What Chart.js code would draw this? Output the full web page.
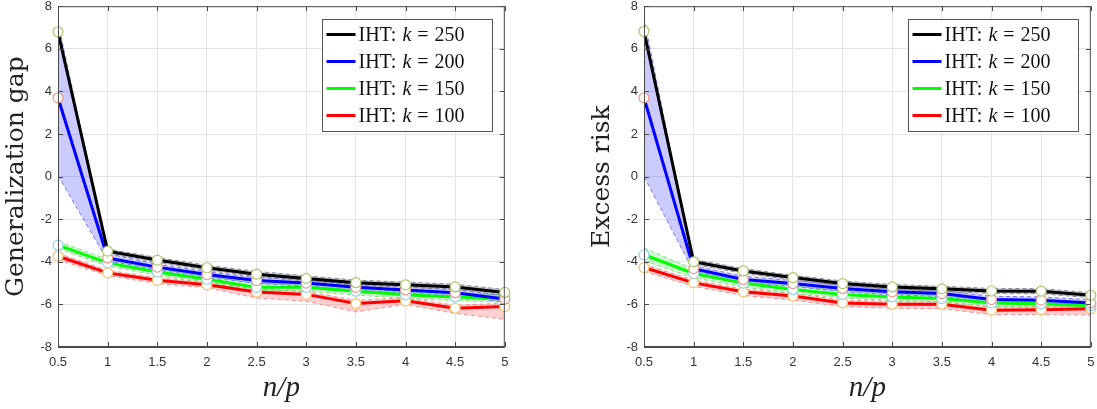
<!DOCTYPE html>
<html>
<head>
<meta charset="utf-8">
<script src="https://cdn.jsdelivr.net/npm/chart.js@4.4.1/dist/chart.umd.min.js"></script>
<style>
  html, body { margin: 0; padding: 0; background: #fff; }
  #wrap { position: relative; width: 1097px; height: 409px; overflow: hidden; }
  .panel { position: absolute; top: 0; width: 511px; height: 409px; }
</style>
</head>
<body>
<div id="wrap">
  <div class="panel" style="left:0"><canvas id="gap-chart" width="511" height="409"></canvas></div>
  <div class="panel" style="left:586px"><canvas id="risk-chart" width="511" height="409"></canvas></div>
</div>
<script>
// n/p ratios on the x axis
const ratios = [0.5, 1, 1.5, 2, 2.5, 3, 3.5, 4, 4.5, 5];
const kValues = ['250', '200', '150', '100'];
const yTicks = [-8, -6, -4, -2, 0, 2, 4, 6, 8];

// Generalization gap (left panel)
const gap250 = [6.8, -3.5, -3.92, -4.28, -4.58, -4.78, -4.98, -5.08, -5.18, -5.44];
const gap200 = [3.7, -3.82, -4.25, -4.6, -4.88, -5.0, -5.2, -5.32, -5.45, -5.75];
const gap150 = [-3.22, -4.05, -4.48, -4.82, -5.2, -5.2, -5.38, -5.55, -5.65, -5.72];
const gap100 = [-3.74, -4.52, -4.87, -5.08, -5.42, -5.53, -5.96, -5.83, -6.18, -6.1];
const gap250Hi = [6.95, -3.4, -3.8, -4.16, -4.45, -4.66, -4.86, -4.95, -5.05, -5.3];
const gap250Lo = [6.65, -3.6, -4.04, -4.4, -4.7, -4.9, -5.1, -5.2, -5.3, -5.58];
const gap200Hi = [7.25, -3.62, -4.12, -4.47, -4.74, -4.86, -5.06, -5.18, -5.3, -5.6];
const gap200Lo = [0.05, -3.95, -4.38, -4.73, -5.02, -5.14, -5.34, -5.46, -5.6, -5.9];
const gap150Hi = [-3.05, -3.88, -4.32, -4.66, -5.02, -5.03, -5.2, -5.38, -5.48, -5.55];
const gap150Lo = [-3.38, -4.2, -4.63, -4.98, -5.38, -5.37, -5.56, -5.72, -5.82, -5.9];
const gap100Hi = [-3.6, -4.4, -4.75, -4.96, -5.28, -5.4, -5.8, -5.7, -6.04, -5.95];
const gap100Lo = [-3.9, -4.65, -5.02, -5.22, -5.7, -5.85, -6.35, -6.0, -6.42, -6.7];

// Excess risk (right panel)
const risk250 = [6.82, -4.0, -4.43, -4.74, -5.02, -5.18, -5.27, -5.37, -5.38, -5.57];
const risk200 = [3.7, -4.32, -4.83, -5.02, -5.25, -5.41, -5.49, -5.77, -5.8, -5.93];
const risk150 = [-3.67, -4.55, -5.0, -5.3, -5.53, -5.65, -5.72, -5.93, -5.97, -6.05];
const risk100 = [-4.27, -4.99, -5.41, -5.61, -5.93, -5.99, -5.99, -6.27, -6.25, -6.2];
const risk250Hi = [6.97, -3.88, -4.32, -4.63, -4.9, -5.06, -5.15, -5.25, -5.26, -5.45];
const risk250Lo = [6.67, -4.12, -4.55, -4.85, -5.14, -5.3, -5.39, -5.49, -5.5, -5.69];
const risk200Hi = [7.45, -4.18, -4.68, -4.88, -5.1, -5.27, -5.35, -5.62, -5.65, -5.78];
const risk200Lo = [0.0, -4.46, -4.98, -5.16, -5.4, -5.55, -5.63, -5.92, -5.95, -6.08];
const risk150Hi = [-3.35, -4.35, -4.82, -5.12, -5.36, -5.48, -5.56, -5.76, -5.8, -5.88];
const risk150Lo = [-3.95, -4.75, -5.18, -5.48, -5.7, -5.82, -5.88, -6.1, -6.14, -6.22];
const risk100Hi = [-4.12, -4.86, -5.28, -5.48, -5.8, -5.86, -5.86, -6.12, -6.1, -6.05];
const risk100Lo = [-4.45, -5.15, -5.58, -5.8, -6.1, -6.18, -6.2, -6.48, -6.48, -6.5];

const lineColors = ['#000000', '#0000ff', '#00ff00', '#ff0000'];
const markerEdges = ['#a9c86a', '#ea9a86', '#95d3ef', '#f2c36a'];
const bandFills = ['rgba(95,95,120,0.35)', 'rgba(70,70,255,0.28)', 'rgba(40,230,40,0.22)', 'rgba(255,70,70,0.25)'];
const bandEdges = ['#8a8a9a', '#7a7ae6', '#86dc86', '#f29090'];

function toPoints(values) {
  return ratios.map((x, i) => ({ x: x, y: values[i] }));
}

// Cadre, graduations intérieures et légende façon MATLAB
const matlabPlugin = {
  id: 'matlabBox',
  afterDraw(chart) {
    const ctx = chart.ctx;
    const a = chart.chartArea;
    const xs = chart.scales.x;
    const ys = chart.scales.y;
    ctx.save();
    ctx.strokeStyle = '#4a4a4a';
    ctx.lineWidth = 1;
    ctx.strokeRect(a.left + 0.5, a.top + 0.5, a.right - a.left - 1, a.bottom - a.top - 1);
    ctx.beginPath();
    ratios.forEach(r => {
      const px = Math.round(xs.getPixelForValue(r)) + 0.5;
      ctx.moveTo(px, a.bottom); ctx.lineTo(px, a.bottom - 5);
      ctx.moveTo(px, a.top); ctx.lineTo(px, a.top + 5);
    });
    yTicks.forEach(v => {
      const py = Math.round(ys.getPixelForValue(v)) + 0.5;
      ctx.moveTo(a.left, py); ctx.lineTo(a.left + 5, py);
      ctx.moveTo(a.right, py); ctx.lineTo(a.right - 5, py);
    });
    ctx.stroke();

    // légende
    const w = 170, h = 112;
    const bx = Math.round(a.right - 13 - w) + 0.5;
    const by = Math.round(a.top + 13) + 0.5;
    ctx.fillStyle = '#ffffff';
    ctx.fillRect(bx, by, w, h);
    ctx.strokeStyle = '#555';
    ctx.strokeRect(bx, by, w, h);
    const regular = '20px "Liberation Serif", serif';
    const italic = 'italic 20px "Liberation Serif", serif';
    kValues.forEach((k, i) => {
      const rowY = by + 15 + i * 27;
      ctx.strokeStyle = lineColors[i];
      ctx.lineWidth = 3;
      ctx.beginPath();
      ctx.moveTo(bx + 4, rowY);
      ctx.lineTo(bx + 33, rowY);
      ctx.stroke();
      ctx.fillStyle = '#111';
      ctx.textBaseline = 'middle';
      let tx = bx + 36;
      ctx.font = regular;
      ctx.fillText('IHT:', tx, rowY + 1);
      tx += ctx.measureText('IHT:').width + 6;
      ctx.font = italic;
      ctx.fillText('k', tx, rowY + 1);
      tx += ctx.measureText('k').width + 6;
      ctx.font = regular;
      ctx.fillText('=', tx, rowY + 1);
      tx += ctx.measureText('=').width + 6;
      ctx.fillText(k, tx, rowY + 1);
    });
    ctx.restore();
  }
};

function createPanel(canvasId, yLabel, means, highs, lows) {
  const datasets = [];
  for (let i = 0; i < 4; i++) {
    datasets.push({
      data: toPoints(highs[i]),
      borderColor: bandEdges[i],
      borderWidth: 1,
      borderDash: [4, 3],
      pointRadius: 0,
      fill: false,
      order: 10 + i
    });
    datasets.push({
      data: toPoints(lows[i]),
      borderColor: bandEdges[i],
      borderWidth: 1,
      borderDash: [4, 3],
      pointRadius: 0,
      backgroundColor: bandFills[i],
      fill: { target: 2 * i },
      order: 10 + i
    });
  }
  for (let i = 0; i < 4; i++) {
    datasets.push({
      data: toPoints(means[i]),
      borderColor: lineColors[i],
      borderWidth: 3,
      pointRadius: 5,
      pointBorderWidth: 1.2,
      pointBackgroundColor: '#ffffff',
      pointBorderColor: markerEdges[i],
      fill: false,
      clip: 8,
      order: i
    });
  }

  return new Chart(document.getElementById(canvasId), {
    type: 'line',
    data: { datasets: datasets },
    options: {
      responsive: false,
      animation: false,
      layout: { padding: { top: 5, right: 6, left: 0, bottom: 0 } },
      plugins: { legend: { display: false }, tooltip: { enabled: false } },
      elements: { line: { tension: 0 } },
      scales: {
        x: {
          type: 'linear',
          min: 0.5,
          max: 5,
          afterFit: s => { s.height = 62; s.paddingLeft = 0; s.paddingRight = 0; },
          ticks: {
            stepSize: 0.5,
            color: '#333',
            padding: 8,
            font: { family: '"Liberation Sans", Arial, sans-serif', size: 13 },
            callback: v => String(v)
          },
          grid: { color: '#e4e4e4', drawTicks: false },
          border: { color: '#4a4a4a' },
          title: {
            display: true,
            text: 'n/p',
            color: '#222',
            font: { family: '"Liberation Serif", serif', style: 'italic', size: 29 },
            padding: { top: 0, bottom: 3 }
          }
        },
        y: {
          min: -8,
          max: 8,
          afterFit: s => { s.width = 58; s.paddingTop = 0; s.paddingBottom = 0; },
          ticks: {
            stepSize: 2,
            color: '#333',
            padding: 6,
            font: { family: '"Liberation Sans", Arial, sans-serif', size: 13 }
          },
          grid: { color: '#e4e4e4', drawTicks: false },
          border: { color: '#4a4a4a' },
          title: {
            display: true,
            text: yLabel,
            color: '#222',
            font: { family: '"DejaVu Serif", serif', size: 25 },
            padding: { top: 1, bottom: 0 }
          }
        }
      }
    },
    plugins: [matlabPlugin]
  });
}

createPanel('gap-chart', 'Generalization gap',
  [gap250, gap200, gap150, gap100],
  [gap250Hi, gap200Hi, gap150Hi, gap100Hi],
  [gap250Lo, gap200Lo, gap150Lo, gap100Lo]);

createPanel('risk-chart', 'Excess risk',
  [risk250, risk200, risk150, risk100],
  [risk250Hi, risk200Hi, risk150Hi, risk100Hi],
  [risk250Lo, risk200Lo, risk150Lo, risk100Lo]);
</script>
</body>
</html>
